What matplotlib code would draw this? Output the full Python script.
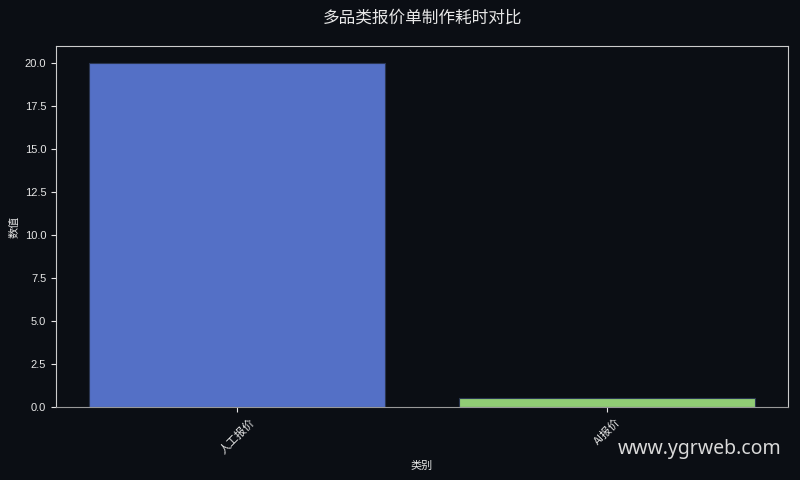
import matplotlib
matplotlib.use("Agg")
import matplotlib.pyplot as plt

categories = ["人工报价", "AI报价"]
values = [20.0, 0.5]
colors = ["#5470C6", "#91CC75"]
title = "多品类报价单制作耗时对比"
xlabel = "类别"
ylabel = "数值"
watermark = "www.ygrweb.com"

plt.rcParams['font.family'] = ['Liberation Sans', 'Noto Sans CJK SC', 'DejaVu Sans']

bg = "#0b0e14"
fig = plt.figure(figsize=(8, 4.8), dpi=100, facecolor=bg)
ax = fig.add_axes([0.07, 0.152, 0.915, 0.752])
ax.set_facecolor(bg)

x = list(range(len(categories)))
ax.bar(x, values, width=0.8, color=colors, edgecolor="#2a3550", linewidth=0.8)
ax.set_xticks(x)
ax.set_xticklabels(categories, rotation=45, fontsize=8, color="#e6e6e6",
                   family=['Noto Sans CJK SC', 'DejaVu Sans'])
ax.tick_params(axis='y', labelsize=8, colors="#e6e6e6")
ax.tick_params(axis='x', colors="#e6e6e6")
for s in ax.spines.values():
    s.set_color("#cccccc")
ax.spines['bottom'].set_color("#999999")

ax.set_xlabel(xlabel, fontsize=8, color="#e6e6e6", family=['Noto Sans CJK SC', 'DejaVu Sans'])
ax.set_ylabel(ylabel, fontsize=8, color="#e6e6e6", family=['Noto Sans CJK SC', 'DejaVu Sans'])
fig.text(0.5275, 0.962, title, ha='center', va='center', fontsize=12, color="#e6e6e6",
         family=['Noto Sans CJK SC', 'DejaVu Sans'])
fig.text(0.977, 0.065, watermark, ha='right', va='center', fontsize=14, color="#d9d9d9",
         family=['Noto Sans', 'DejaVu Sans'])

fig.savefig("out.png", dpi=100, facecolor=bg)
